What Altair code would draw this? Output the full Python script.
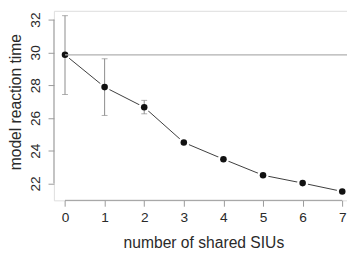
import altair as alt
import pandas as pd

shared = [0, 1, 2, 3, 4, 5, 6, 7]
rt_mean = [29.85, 27.88, 26.65, 24.50, 23.48, 22.50, 22.02, 21.51]
err_x = [0, 1, 2]
err_lo = [27.43, 26.15, 26.25]
err_hi = [32.24, 29.61, 27.07]
baseline_rt = 29.85
x_ticks = [0, 1, 2, 3, 4, 5, 6, 7]
y_ticks = [22, 24, 26, 28, 30, 32]

df = pd.DataFrame({"x": shared, "y": rt_mean})
err = pd.DataFrame({"x": err_x, "lo": err_lo, "hi": err_hi})
base_df = pd.DataFrame({"x": [0], "y": [baseline_rt]})
yaxis_df = pd.DataFrame({"y": [y_ticks[0]], "y2": [y_ticks[-1]]})
xaxis_df = pd.DataFrame({"x": [x_ticks[0]], "x2": [x_ticks[-1]]})

FONT = "Liberation Sans"
TXT = "#2a2a2a"
AX = "#9a9a9a"
W, H = 300, 194

xs = alt.Scale(domain=[-0.28, 7.12], nice=False, zero=False)
ys = alt.Scale(domain=[20.968, 32.537], nice=False, zero=False)

xaxis = alt.Axis(values=x_ticks, domain=False, grid=False, tickSize=6, tickColor=AX,
                 labelPadding=5, labelFontSize=14, labelFont=FONT, labelColor=TXT,
                 labelAngle=0, labelOverlap=False,
                 title="number of shared SIUs", titleFont=FONT,
                 titleFontSize=16, titleFontWeight="normal", titleColor=TXT,
                 titleX=153, titleY=48, titleAlign="center", titleBaseline="alphabetic")
yaxis = alt.Axis(values=y_ticks, domain=False, grid=False, tickSize=6, tickColor=AX,
                 labelPadding=6, labelFontSize=14, labelFont=FONT, labelColor=TXT,
                 labelAngle=-90, labelAlign="center", labelBaseline="bottom",
                 labelOverlap=False,
                 title="model reaction time", titleFont=FONT, titleFontSize=16,
                 titleFontWeight="normal", titleColor=TXT, titleAngle=-90,
                 titleX=-39, titleY=93, titleAlign="center", titleBaseline="middle")

line = alt.Chart(df).mark_line(color="#3a3a3a", strokeWidth=1).encode(
    x=alt.X("x:Q", scale=xs, axis=xaxis),
    y=alt.Y("y:Q", scale=ys, axis=yaxis),
)
halo = alt.Chart(df).mark_point(filled=True, color="white", size=130, opacity=1).encode(
    x=alt.X("x:Q", scale=xs, axis=xaxis), y=alt.Y("y:Q", scale=ys, axis=yaxis))
bars = alt.Chart(err).mark_rule(color="#8a8a8a", strokeWidth=1).encode(
    x=alt.X("x:Q", scale=xs, axis=xaxis), y=alt.Y("lo:Q", scale=ys, axis=yaxis), y2="hi:Q")
cap_lo = alt.Chart(err).mark_tick(color="#8a8a8a", orient="horizontal", size=6, thickness=1).encode(
    x=alt.X("x:Q", scale=xs, axis=xaxis), y=alt.Y("lo:Q", scale=ys, axis=yaxis))
cap_hi = alt.Chart(err).mark_tick(color="#8a8a8a", orient="horizontal", size=6, thickness=1).encode(
    x=alt.X("x:Q", scale=xs, axis=xaxis), y=alt.Y("hi:Q", scale=ys, axis=yaxis))
pts = alt.Chart(df).mark_point(filled=True, color="#111111", size=45, opacity=1).encode(
    x=alt.X("x:Q", scale=xs, axis=xaxis), y=alt.Y("y:Q", scale=ys, axis=yaxis))
hline = alt.Chart(base_df).mark_rule(color="#b0b0b0", strokeWidth=1.2).encode(
    x=alt.X("x:Q", scale=xs, axis=xaxis), x2=alt.value(W), y=alt.Y("y:Q", scale=ys, axis=yaxis))
yline = alt.Chart(yaxis_df).mark_rule(color=AX, strokeWidth=1).encode(
    x=alt.value(0), y=alt.Y("y:Q", scale=ys, axis=yaxis), y2="y2:Q")
xline = alt.Chart(xaxis_df).mark_rule(color=AX, strokeWidth=1).encode(
    x=alt.X("x:Q", scale=xs, axis=xaxis), x2="x2:Q", y=alt.value(H))

chart = alt.layer(line, halo, bars, cap_lo, cap_hi, pts, hline, yline, xline).properties(
    width=W, height=H,
    autosize=alt.AutoSizeParams(type="none"),
    padding={"left": 47, "top": 0, "right": 0, "bottom": 50},
).configure_view(stroke=None).configure(background="white").configure_axis(
    labelOverlap=False
)

chart.save("out.html", embed_options={"renderer": "svg", "actions": False})
